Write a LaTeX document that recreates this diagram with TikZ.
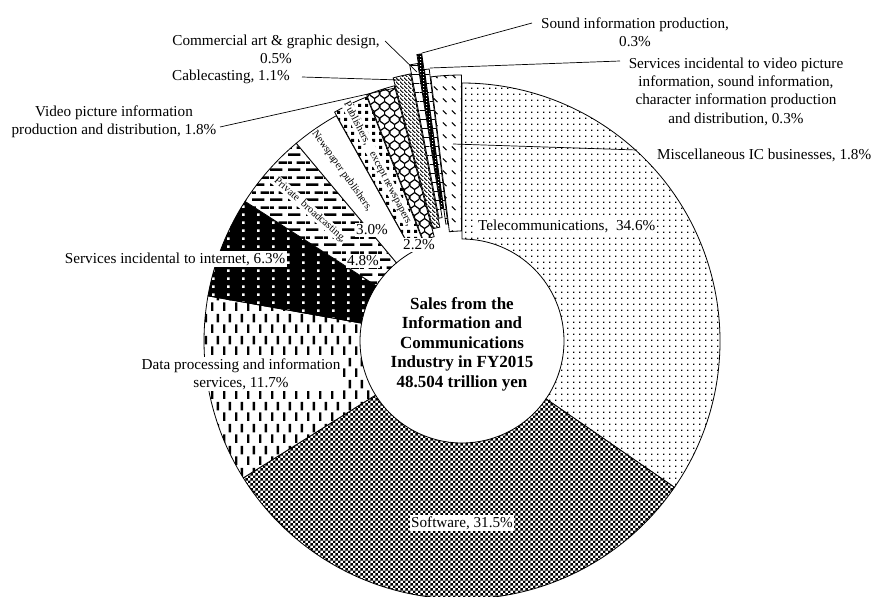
\documentclass[tikz,border=0pt]{standalone}
\usepackage{fontspec}
\setmainfont{Liberation Serif}
\usetikzlibrary{patterns.meta}

\newcommand\patrect[4]{\pgfpathrectangle{\pgfpoint{#1pt}{#2pt}}{\pgfpoint{#3pt}{#4pt}}}
\newcommand\patline[4]{\pgfpathmoveto{\pgfpoint{#1pt}{#2pt}}\pgfpathlineto{\pgfpoint{#3pt}{#4pt}}}

\tikzdeclarepattern{name=telpat, bottom left={(0pt,0pt)}, top right={(5.6pt,5.6pt)}, tile size={(5.6pt,5.6pt)},
  code={\patrect{0}{0}{1.5}{1.5}\pgfusepath{fill}}}
\tikzdeclarepattern{name=softpat, bottom left={(0pt,0pt)}, top right={(5.4pt,5.4pt)}, tile size={(5.4pt,5.4pt)},
  code={\patrect{0}{0}{2.7}{2.7}\patrect{2.7}{2.7}{2.7}{2.7}\pgfusepath{fill}}}
\tikzdeclarepattern{name=datapat, bottom left={(0pt,0pt)}, top right={(11.7pt,22pt)}, tile size={(11.7pt,22pt)},
  code={\patrect{0}{0}{2.4}{9}\patrect{5.85}{11}{2.4}{9}\pgfusepath{fill}}}
\tikzdeclarepattern{name=inetpat, bottom left={(0pt,0pt)}, top right={(15.2pt,7.7pt)}, tile size={(15.2pt,7.7pt)},
  code={\patrect{0}{0}{2.7}{2.7}\pgfusepath{fill}}}
\tikzdeclarepattern{name=privpat, bottom left={(0pt,0pt)}, top right={(18pt,14.6pt)}, tile size={(18pt,14.6pt)},
  code={\patrect{0}{0}{13}{2.6}\patrect{9}{7.3}{9}{2.6}\patrect{0}{7.3}{4}{2.6}\pgfusepath{fill}}}
\tikzdeclarepattern{name=pubpat, bottom left={(0pt,0pt)}, top right={(6.6pt,6.6pt)}, tile size={(6.6pt,6.6pt)},
  code={\patrect{0}{0}{3.3}{3.3}\pgfusepath{fill}}}
\tikzdeclarepattern{name=vidpat, bottom left={(0pt,0pt)}, top right={(10pt,13.33pt)}, tile size={(10pt,13.33pt)},
  code={\pgfsetlinewidth{1.3pt}%
    \pgfpathmoveto{\pgfpoint{0pt}{0pt}}\pgfpathlineto{\pgfpoint{0pt}{3.33pt}}\pgfpathlineto{\pgfpoint{5pt}{6.67pt}}%
    \pgfpathlineto{\pgfpoint{5pt}{10pt}}\pgfpathlineto{\pgfpoint{0pt}{13.33pt}}%
    \pgfpathmoveto{\pgfpoint{10pt}{0pt}}\pgfpathlineto{\pgfpoint{10pt}{3.33pt}}\pgfpathlineto{\pgfpoint{5pt}{6.67pt}}%
    \patline{5}{10}{10}{13.33}\pgfusepath{stroke}}}
\tikzdeclarepattern{name=cabpat, bottom left={(0pt,0pt)}, top right={(4pt,4pt)}, tile size={(4pt,4pt)},
  code={\pgfsetlinewidth{1.1pt}\patline{-1}{5}{5}{-1}\pgfusepath{stroke}}}
\tikzdeclarepattern{name=hlpat, bottom left={(0pt,0pt)}, top right={(10pt,9pt)}, tile size={(10pt,9pt)},
  code={\patrect{0}{0}{10}{0.9}\pgfusepath{fill}}}
\tikzdeclarepattern{name=sndpat, bottom left={(0pt,0pt)}, top right={(3pt,3pt)}, tile size={(3pt,3pt)},
  code={\patrect{0}{0}{1.3}{1.3}\pgfusepath{fill}}}
\tikzdeclarepattern{name=miscpat, bottom left={(0pt,0pt)}, top right={(9pt,12pt)}, tile size={(9pt,12pt)},
  code={\pgfsetlinewidth{1.2pt}\patline{2}{7}{6}{3}\pgfusepath{stroke}}}

\def\Rout{258}
\def\Rin{102}
% #1 start angle, #2 end angle (visual, ccw), #3 explosion offset, #4 style
\newcommand\ringslice[4]{%
  \pgfmathsetmacro\bisang{(#1+#2)/2}%
  \begin{scope}[shift={(C)}, yscale=-1]
    \begin{scope}[shift={(\bisang:#3)}]
      \path[#4] (#1:\Rout) arc[start angle=#1, end angle=#2, radius=\Rout]
        -- (#2:\Rin) arc[start angle=#2, end angle=#1, radius=\Rin] -- cycle;
    \end{scope}
  \end{scope}}

\tikzset{
  slc/.style={draw=black, line width=0.8pt, preaction={fill=white}},
  tel/.style={slc, pattern=telpat},
  soft/.style={slc, pattern=softpat},
  dat/.style={slc, pattern=datapat},
  inet/.style={draw=black, line width=0.8pt, preaction={fill=black}, pattern=inetpat, pattern color=white},
  priv/.style={slc, pattern=privpat},
  news/.style={slc, fill=white},
  pub/.style={slc, pattern=pubpat},
  vid/.style={slc, pattern=vidpat},
  cab/.style={slc, pattern=cabpat},
  com/.style={slc, pattern=hlpat},
  snd/.style={draw=black, line width=0.8pt, preaction={fill=black}, pattern=sndpat, pattern color=white},
  svid/.style={slc, pattern=hlpat},
  misc/.style={slc, pattern=miscpat},
  lab/.style={font=\fontsize{15.2}{18.3}\selectfont, align=center, inner sep=1.5pt},
  wlab/.style={lab, fill=white},
  rlab/.style={font=\fontsize{10.6}{12}\selectfont, fill=white, inner sep=0.8pt},
  ctr/.style={font=\fontsize{17}{19.5}\selectfont\bfseries, align=center},
  lead/.style={draw=black, line width=0.7pt}
}

\begin{document}
\begin{tikzpicture}[x=1pt, y=-1pt]
\useasboundingbox[fill=white] (0,0) rectangle (873,597);
\coordinate (C) at (462,341);

% slices
\ringslice{-34.56}{90}{0}{tel}
\ringslice{-147.96}{-34.56}{0}{soft}
\ringslice{169.92}{212.04}{0}{dat}
\ringslice{147.24}{169.92}{0}{inet}
\ringslice{129.96}{147.24}{0}{priv}
\ringslice{119.16}{129.96}{0}{news}
\ringslice{111.24}{119.16}{4}{pub}
\ringslice{104.76}{111.24}{6}{vid}
\ringslice{90}{96.84}{8}{misc}
\ringslice{96.84}{97.92}{16}{svid}
\ringslice{100.8}{104.76}{14}{cab}
\ringslice{99.0}{100.8}{23}{com}
\ringslice{97.92}{99.0}{32}{snd}

% centre text
\node[ctr] (title) at (462,344) {Sales from the\\Information and\\Communications\\Industry in FY2015\\48.504 trillion yen};

% labels inside slices
\node[wlab, anchor=west] (ltel) at (476.5,226) {Telecommunications,\ \ 34.6\%};
\node[wlab] (lsoft) at (462,523) {Software,\ 31.5\%};
\node[wlab] (ldat) at (241,374) {Data processing and information\\services, 11.7\%};
\node[wlab, anchor=east] (linet) at (287,259) {Services incidental to internet, 6.3\%};
\node[wlab] (lpriv) at (363,261) {4.8\%};
\node[wlab] (lnews) at (372,230) {3.0\%};
\node[wlab] (lpub) at (419,245) {2.2\%};
\node[rlab, rotate=-41.4] (rpriv) at (310,210) {Private\ \ broadcasting,};
\node[rlab, rotate=-54.5] (rnews) at (342,171) {Newspaper publishers,};
\node[rlab, rotate=-62.5] (rpub) at (378,164) {Publishers,\hspace{9pt}except newspapers,};

% outside labels
\node[lab] (lsnd) at (635,32.5) {Sound information production,\\0.3\%};
\node[lab] (lsvid) at (736,91.5) {Services incidental to video picture\\information, sound information,\\character information production\\and distribution, 0.3\%};
\node[lab, anchor=west] (lmisc) at (655.5,155) {Miscellaneous IC businesses, 1.8\%};
\node[lab] (lcom) at (276,49) {Commercial art \& graphic design,\\0.5\%};
\node[lab] (lcab) at (231,77) {Cablecasting, 1.1\%};
\node[lab] (lvid) at (114,122) {Video picture information\\production and distribution, 1.8\%};

% leader end points
\coordinate (sndA) at (532,23);   \coordinate (sndB) at (422,53);
\coordinate (svidA) at (620,61);  \coordinate (svidB) at (430,68);
\coordinate (miscA) at (637,150); \coordinate (miscB) at (453,144);
\coordinate (comA) at (385,41);   \coordinate (comB) at (417,72);
\coordinate (cabA) at (302,77);   \coordinate (cabB) at (400,80);
\coordinate (vidA) at (220,127);  \coordinate (vidB) at (395,88);

\draw[lead] (sndA) -- (sndB);
\draw[lead] (svidA) -- (svidB);
\draw[lead] (miscA) -- (miscB);
\draw[lead] (comA) -- (comB);
\draw[lead] (cabA) -- (cabB);
\draw[lead] (vidA) -- (vidB);
\end{tikzpicture}
\end{document}
